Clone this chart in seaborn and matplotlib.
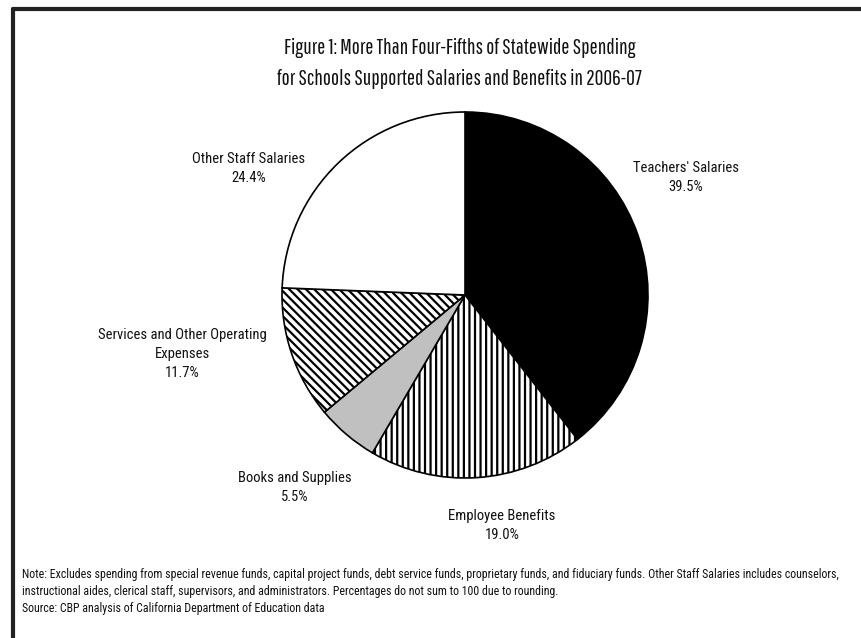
import matplotlib
matplotlib.use("Agg")
import matplotlib.pyplot as plt
from matplotlib.lines import Line2D
import seaborn as sns

# data
categories = ["Teachers' Salaries", "Employee Benefits", "Books and Supplies",
              "Services and Other Operating\nExpenses", "Other Staff Salaries"]
shares = [39.5, 19.0, 5.5, 11.7, 24.4]

# styling per slice
slice_colors = ["#000000", "#ffffff", "#c0c0c0", "#ffffff", "#ffffff"]
slice_hatches = ["", "|||", "", "\\\\\\\\", ""]
label_pos = [(1.208, 0.640), (0.202, -1.262), (-0.929, -1.050),
             (-1.545, -0.322), (-1.180, 0.690)]

title = ("Figure 1: More Than Four-Fifths of Statewide Spending\n"
         "for Schools Supported Salaries and Benefits in 2006-07")
note = ("Note: Excludes spending from special revenue funds, capital project funds, debt service funds, "
        "proprietary funds, and fiduciary funds. Other Staff Salaries includes counselors,\n"
        "instructional aides, clerical staff, supervisors, and administrators. "
        "Percentages do not sum to 100 due to rounding.\n"
        "Source: CBP analysis of California Department of Education data")

sns.set_theme(style="white")
body_font = ['Roboto Condensed', 'Archivo Narrow', 'PT Sans Narrow', 'DejaVu Sans']
title_font = ['Pathway Gothic One', 'Roboto Condensed', 'DejaVu Sans']
plt.rcParams['font.family'] = body_font
plt.rcParams['hatch.linewidth'] = 1.6

W, H = 862, 638
cx, cy, r = 465, 295, 183
fig = plt.figure(figsize=(W / 100, H / 100), dpi=100)
ax = fig.add_axes([0, 0, 1, 1])

wedges, _ = ax.pie(shares, colors=slice_colors, startangle=90, counterclock=False,
                   wedgeprops=dict(edgecolor="black", linewidth=1.2))
for w, h in zip(wedges, slice_hatches):
    w.set_hatch(h)

ax.set_xlim(-cx / r, (W - cx) / r)
ax.set_ylim(-(H - cy) / r, cy / r)
ax.set_aspect('auto')
ax.axis('off')

for name, val, (x, y) in zip(categories, shares, label_pos):
    ax.text(x, y, f"{name}\n{val:.1f}%", ha='center', va='center',
            fontsize=10.5, linespacing=1.45, color="#111111")

fig.text(460 / W, 1 - 63.5 / H, title, ha='center', va='center', fontsize=15.5,
         linespacing=1.65, color="#111111", family=title_font)
fig.text(22 / W, 1 - 568 / H, note, ha='left', va='top', fontsize=8.6,
         linespacing=1.42, color="#111111")

# frame lines at top and left
fig.add_artist(Line2D([13 / W, 13 / W], [0, 1 - 9 / H], color="#222222", linewidth=3))
fig.add_artist(Line2D([13 / W, 1], [1 - 9 / H, 1 - 9 / H], color="#222222", linewidth=3))

fig.savefig("out.png", dpi=100)
